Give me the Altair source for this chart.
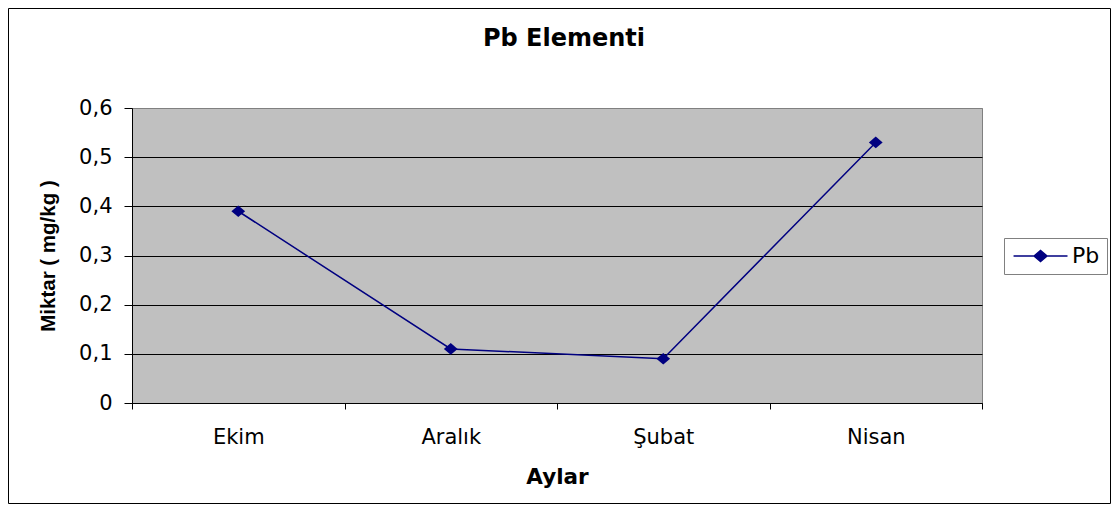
import altair as alt
import pandas as pd

# ---- data ----
months = ["Ekim", "Aralık", "Şubat", "Nisan"]
pb_values = [0.39, 0.11, 0.09, 0.53]
series_name = "Pb"
y_ticks = [0, 0.1, 0.2, 0.3, 0.4, 0.5, 0.6]
chart_title = "Pb Elementi"
x_title = "Aylar"
y_title = "Miktar ( mg/kg )"

df = pd.DataFrame({"Ay": months, "Miktar": pb_values, "Seri": [series_name] * len(months)})

W, H = 850, 295
navy = "#000080"
marker = "M-1,0L0,-0.85L1,0L0,0.85Z"
legend_symbol = "M-1.3,0L7.0,0M1.85,0L2.85,-0.85L3.85,0L2.85,0.85Z"

x = alt.X(
    "Ay:N",
    sort=months,
    scale=alt.Scale(type="band", paddingInner=0, paddingOuter=0),
    axis=alt.Axis(
        title=x_title, labelAngle=0, tickBand="extent", ticks=True, tickSize=6,
        tickColor="black", domainColor="black", labelFont="DejaVu Sans",
        labelFontSize=21, labelColor="black", labelPadding=17,
        titleFont="DejaVu Sans", titleFontSize=21.5, titleFontWeight="bold",
        titleColor="black", titleY=80, titleBaseline="alphabetic", grid=False,
    ),
)

y = alt.Y(
    "Miktar:Q",
    scale=alt.Scale(domain=[0, 0.6], nice=False, zero=True),
    axis=alt.Axis(
        values=y_ticks,
        labelExpr="datum.value == 0 ? '0' : replace(format(datum.value, '.1f'), '.', ',')",
        tickSize=8, tickColor="black", domainColor="black", labelPadding=12,
        labelFont="DejaVu Sans", labelFontSize=21, labelColor="black",
        grid=True,
        gridColor={"condition": {"test": "datum.value >= 0.6", "value": "#808080"}, "value": "#000000"},
        gridWidth=1,
        title=y_title, titleFont="Liberation Sans", titleFontSize=20.5, titleFontWeight="bold",
        titleColor="black", titleAngle=270, titleX=-78, titleY=H / 2,
        titleBaseline="alphabetic", titleAlign="center",
    ),
)

color = alt.Color(
    "Seri:N",
    scale=alt.Scale(range=[navy]),
    legend=alt.Legend(
        orient="none", legendX=872, legendY=130, title=None,
        symbolType=legend_symbol, symbolSize=169, symbolStrokeColor=navy,
        symbolFillColor=navy, symbolStrokeWidth=1.5, symbolOpacity=1,
        labelFont="DejaVu Sans", labelFontSize=22, labelColor="black",
        labelOffset=39, padding=7, strokeColor="#808080", fillColor="white",
        cornerRadius=0,
    ),
)

base = alt.Chart(df).encode(x=x, y=y, color=color)
line = base.mark_line(strokeWidth=1.5)
points = base.mark_point(shape=marker, filled=True, size=190, opacity=1)

title_layer = alt.Chart(pd.DataFrame({"t": [chart_title]})).mark_text(
    font="DejaVu Sans", fontSize=24, fontWeight="bold", baseline="alphabetic",
    align="center", color="black",
).encode(text="t:N", x=alt.value(432), y=alt.value(-62))

border = alt.Chart(pd.DataFrame({"b": [0]})).mark_rect(
    fillOpacity=0, stroke="black", strokeWidth=1,
).encode(
    x=alt.value(-123.5), x2=alt.value(W + 128.5),
    y=alt.value(-99.5), y2=alt.value(H + 100.5),
)

chart = alt.layer(line, points, title_layer, border).properties(
    width=W, height=H,
    background="white",
    autosize=alt.AutoSizeParams(type="none"),
    padding={"left": 124, "top": 100, "right": 129, "bottom": 101},
).configure_view(
    fill="#C0C0C0", stroke="#808080", strokeWidth=1,
)

chart.save("out.html", embed_options={"renderer": "svg", "actions": False})
